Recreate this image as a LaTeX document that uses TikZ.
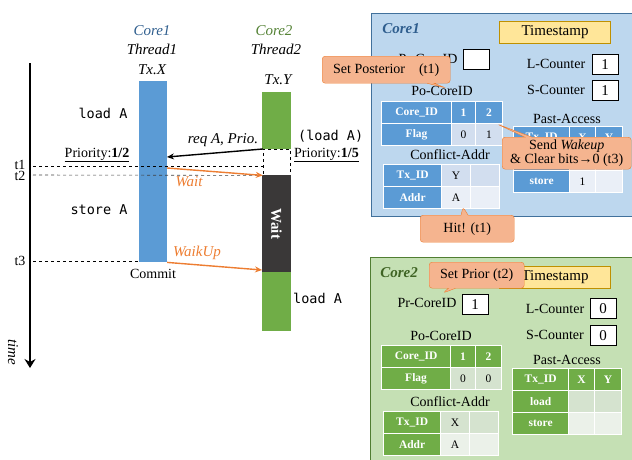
\documentclass[tikz,border=0pt]{standalone}
\usepackage{fontspec}
\setmainfont{Liberation Serif}
\setmonofont{DejaVu Sans Mono}
\usetikzlibrary{positioning, shapes.callouts, arrows.meta}

\definecolor{cblue}{HTML}{5B9BD5}
\definecolor{cgreen}{HTML}{70AD47}
\definecolor{cdark}{HTML}{3A3838}
\definecolor{corange}{HTML}{ED7D31}
\definecolor{csalmon}{HTML}{F5B48F}
\definecolor{bluefill}{HTML}{BDD7EE}
\definecolor{blueline}{HTML}{41719C}
\definecolor{greenfill}{HTML}{C5E0B4}
\definecolor{greenline}{HTML}{507E32}
\definecolor{blight}{HTML}{D2DEEF}
\definecolor{blighter}{HTML}{EAEFF7}
\definecolor{glight}{HTML}{D5E3CF}
\definecolor{glighter}{HTML}{EBF1E9}
\definecolor{tsfill}{HTML}{FFE699}
\definecolor{tsline}{HTML}{BF9000}
\definecolor{ctitleA}{HTML}{2F5E8E}
\definecolor{ctitleB}{HTML}{548235}
\definecolor{ptitleB}{HTML}{3F6424}

\tikzset{
  bar/.style={rectangle, anchor=north, minimum width=28pt, inner sep=0pt},
  head/.style={font=\fontsize{15}{17}\selectfont\itshape, inner sep=0pt},
  lbl/.style={font=\fontsize{14}{16}\selectfont, inner sep=0pt},
  code/.style={font=\fontsize{13.5}{16}\selectfont\ttfamily, inner sep=0pt},
  cell/.style={draw=white, line width=1.2pt, anchor=north west, inner sep=0pt, minimum height=22pt, font=\fontsize{11.5}{13}\selectfont},
  bhead/.style={cell, fill=cblue, text=white, font=\fontsize{11.5}{13}\selectfont\bfseries},
  ghead/.style={cell, fill=cgreen, text=white, font=\fontsize{11.5}{13}\selectfont\bfseries},
  valbox/.style={draw, fill=white, anchor=north west, minimum width=26pt, minimum height=20pt, inner sep=0pt, font=\fontsize{15}{17}\selectfont},
  tsbox/.style={draw=tsline, fill=tsfill, line width=1pt, anchor=north west, minimum width=111pt, minimum height=22pt, font=\fontsize{15}{17}\selectfont},
  note/.style={rectangle callout, draw=corange, fill=csalmon, rounded corners=3pt, anchor=north west, inner sep=0pt, font=\fontsize{14}{16}\selectfont, align=center},
  guide/.style={dashed, line width=0.6pt}
}

\begin{document}
\begin{tikzpicture}[x=1pt, y=-1pt]
  \useasboundingbox (0,0) rectangle (632,459);

  %time line
  \coordinate (ttop) at (30,63);
  \coordinate (tbot) at (30,368);
  \draw[line width=2.5pt, -{Stealth[length=9pt, width=11pt, inset=3pt]}] (ttop) -- (tbot);
  \node[head, rotate=-90] (time) at (13,352) {time};

  %threads
  \node[head, text=ctitleA] (core1) at (152,31) {Core1};
  \node[head] (thread1) at (152,49) {Thread1};
  \node[head] (txx) at (152,70) {Tx.X};
  \node[head, text=ctitleB] (core2) at (274,31) {Core2};
  \node[head] (thread2) at (276,49) {Thread2};
  \node[head] (txy) at (278,80) {Tx.Y};

  \node[bar, fill=cblue, minimum height=181pt] (bar1) at (153,81) {};
  \node[bar, fill=cgreen, minimum width=29pt, minimum height=57pt] (bar2) at (276.5,92) {};
  \node[bar, draw, dashed, fill=white, minimum width=27pt, minimum height=26pt] (gap) at (276.5,149) {};
  \node[bar, fill=cdark, minimum width=29pt, minimum height=97pt] (wait) at (276.5,175) {};
  \node[rotate=-90, text=white, font=\fontsize{15}{17}\selectfont\bfseries] (waittxt) at (wait.center) {Wait};
  \node[bar, fill=cgreen, minimum width=29pt, minimum height=59pt] (bar3) at (276.5,272) {};

  \node[code] (loada) at (103,113) {load A};
  \node[code] (storea) at (99,210) {store A};
  \node[lbl, below=7pt of bar1] (commit) {Commit};
  \node[code, anchor=west] (loadb) at (293,298) {load A};
  \node[code, anchor=west] (loadc) at (298,136) {(load A)};
  \node[lbl, anchor=west] (prio2) at (294,155) {\underline{Priority:\textbf{1/5}}};
  \node[lbl] (prio1) at (97,155) {\underline{Priority:\textbf{1/2}}};

  %time marks
  \node[lbl] (t1) at (20,165) {t1};
  \node[lbl] (t2) at (20,176) {t2};
  \node[lbl] (t3) at (20,261) {t3};
  \coordinate (t1a) at (33,166);
  \coordinate (t1b) at (263,166);
  \coordinate (t2a) at (33,175);
  \coordinate (t3a) at (33,261);
  \coordinate (t3b) at (139,261);
  \draw[guide] (t1a) -- (t1b);
  \draw[guide, draw=darkgray] (t2a) -- (gap.south west);
  \draw[guide] (t3a) -- (t3b);

  %messages
  \coordinate (reqend) at (167,157);
  \coordinate (waitstart) at (167,168);
  \coordinate (wakeend) at (262,270);
  \draw[line width=1.4pt, -{Stealth[length=7pt, width=6pt]}] (gap.north west) -- (reqend);
  \node[head] (req) at (223,140) {req A, Prio.};
  \draw[line width=1.4pt, draw=corange, -{Stealth[length=7pt, width=6pt]}] (waitstart) -- (gap.south west);
  \node[head, text=corange] (waitlbl) at (189,182) {Wait};
  \draw[line width=1.4pt, draw=corange, -{Stealth[length=7pt, width=6pt]}] (bar1.south east) -- (wakeend);
  \node[head, text=corange] (wakelbl) at (197,253) {WaikUp};

  %Core1 panel
  \node[draw=blueline, fill=bluefill, line width=1pt, anchor=north west, minimum width=280pt, minimum height=203pt] (panel1) at (371,13) {};
  \node[font=\fontsize{15}{17}\selectfont\bfseries\itshape, text=ctitleA] (name1) at (401,29) {Core1};
  \node[tsbox] (ts1) at (499,21) {Timestamp};
  \node[lbl] (pr1) at (428,59) {Pr-CoreID};
  \node[valbox] (pr1val) at (463,49) {};
  \node[lbl] (lc1) at (556,64) {L-Counter};
  \node[valbox] (lc1val) at (592,54) {1};
  \node[lbl] (sc1) at (556,90) {S-Counter};
  \node[valbox] (sc1val) at (592,80) {1};
  \node[lbl] (po1) at (442,91) {Po-CoreID};
  \node[lbl] (cf1) at (450,155) {Conflict-Addr};
  \node[lbl] (pa1) at (567,119) {Past-Access};
  \foreach \n/\x/\y/\w/\t in {a/381/101/70/Core\_ID, b/451/101/24/1, c/475/101/27/2, d/381/123/70/Flag}
    \node[bhead, minimum width=\w pt] (apo\n) at (\x,\y) {\t};
  \foreach \n/\x/\y/\w/\t in {e/451/123/24/0, f/475/123/27/1}
    \node[cell, fill=blight, minimum width=\w pt] (apo\n) at (\x,\y) {\t};
  \foreach \n/\x/\y/\w/\t in {a/383/164/58/Tx\_ID, b/383/186/58/Addr}
    \node[bhead, minimum width=\w pt] (acf\n) at (\x,\y) {\t};
  \foreach \n/\x/\y/\t in {c/441/164/Y, d/470/164/{}}
    \node[cell, fill=blight, minimum width=29pt] (acf\n) at (\x,\y) {\t};
  \foreach \n/\x/\y/\t in {e/441/186/A, f/470/186/{}}
    \node[cell, fill=blighter, minimum width=29pt] (acf\n) at (\x,\y) {\t};
  \foreach \n/\x/\y/\w/\t in {a/513/126/56/Tx\_ID, b/569/126/26/X, c/595/126/27/Y, d/513/148/56/load, e/513/170/56/store}
    \node[bhead, minimum width=\w pt] (apa\n) at (\x,\y) {\t};
  \foreach \n/\x/\y/\w/\t in {f/569/148/26/{}, g/595/148/27/{}}
    \node[cell, fill=blight, minimum width=\w pt] (apa\n) at (\x,\y) {\t};
  \foreach \n/\x/\y/\w/\t in {h/569/170/26/1, i/595/170/27/{}}
    \node[cell, fill=blighter, minimum width=\w pt] (apa\n) at (\x,\y) {\t};

  %Core2 panel
  \node[draw=greenline, fill=greenfill, line width=1pt, anchor=north west, minimum width=280pt, minimum height=210pt] (panel2) at (370,257) {};
  \node[font=\fontsize{15}{17}\selectfont\bfseries\itshape, text=ptitleB] (name2) at (399,273) {Core2};
  \node[tsbox] (ts2) at (499,266) {Timestamp};
  \node[lbl] (pr2) at (427,303) {Pr-CoreID};
  \node[valbox] (pr2val) at (462,294) {1};
  \node[lbl] (lc2) at (555,309) {L-Counter};
  \node[valbox] (lc2val) at (590,298) {0};
  \node[lbl] (sc2) at (555,335) {S-Counter};
  \node[valbox] (sc2val) at (590,325) {0};
  \node[lbl] (po2) at (441,336) {Po-CoreID};
  \node[lbl] (cf2) at (450,402) {Conflict-Addr};
  \node[lbl] (pa2) at (567,360) {Past-Access};
  \foreach \n/\x/\y/\w/\t in {a/381/345/69/Core\_ID, b/450/345/25/1, c/475/345/26/2, d/381/367/69/Flag}
    \node[ghead, minimum width=\w pt] (bpo\n) at (\x,\y) {\t};
  \foreach \n/\x/\y/\w/\t in {e/450/367/25/0, f/475/367/26/0}
    \node[cell, fill=glight, minimum width=\w pt] (bpo\n) at (\x,\y) {\t};
  \foreach \n/\x/\y/\w/\t in {a/383/411/57/Tx\_ID, b/383/433/57/Addr}
    \node[ghead, minimum width=\w pt] (bcf\n) at (\x,\y) {\t};
  \foreach \n/\x/\y/\t in {c/440/411/X, d/469/411/{}}
    \node[cell, fill=glight, minimum width=29pt] (bcf\n) at (\x,\y) {\t};
  \foreach \n/\x/\y/\t in {e/440/433/A, f/469/433/{}}
    \node[cell, fill=glighter, minimum width=29pt] (bcf\n) at (\x,\y) {\t};
  \foreach \n/\x/\y/\w/\t in {a/512/368/56/Tx\_ID, b/568/368/26/X, c/594/368/27/Y, d/512/390/56/load, e/512/412/56/store}
    \node[ghead, minimum width=\w pt] (bpa\n) at (\x,\y) {\t};
  \foreach \n/\x/\y/\w in {f/568/390/26, g/594/390/27}
    \node[cell, fill=glight, minimum width=\w pt] (bpa\n) at (\x,\y) {};
  \foreach \n/\x/\y/\w in {h/568/412/26, i/594/412/27}
    \node[cell, fill=glighter, minimum width=\w pt] (bpa\n) at (\x,\y) {};

  %notes
  \node[note, minimum width=128pt, minimum height=27pt, callout absolute pointer={(446,88)}] (post) at (322,56) {Set Posterior\quad(t1)};
  \node[note, minimum width=129pt, minimum height=32pt, callout absolute pointer={(497,124)}] (wake) at (502,137) {Send \textit{Wakeup}\\[-2pt] \& Clear bits→0 (t3)};
  \node[note, minimum width=94pt, minimum height=27pt, callout absolute pointer={(463,207)}] (hit) at (420,215) {Hit! (t1)};
  \node[note, minimum width=95pt, minimum height=26pt, callout absolute pointer={(443,293)}] (prior) at (429,262) {Set Prior (t2)};
\end{tikzpicture}
\end{document}
